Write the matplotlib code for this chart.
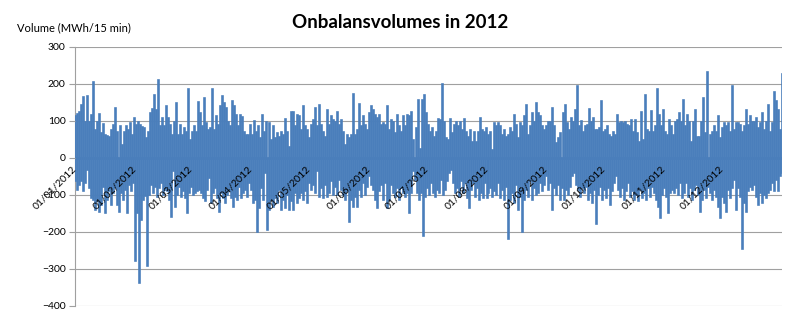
import numpy as np
import matplotlib
matplotlib.use('Agg')
import matplotlib.pyplot as plt

# read-off upper peaks (MWh/15 min), Jan -> Dec
upper_peaks = [
    112, 118, 125, 144, 165, 98, 166, 98, 116, 206, 75, 98, 119, 66, 92, 62, 60, 57, 75, 89,
    135, 71, 85, 35, 71, 85, 75, 94, 62, 107, 90, 98, 89, 84, 80, 53, 71, 121, 132, 171,
    130, 210, 85, 107, 85, 141, 107, 89, 62, 98, 148, 62, 89, 62, 80, 70, 187, 48, 71, 85,
    71, 150, 121, 85, 162, 94, 75, 80, 186, 75, 114, 89, 139, 168, 148, 135, 98, 85, 153, 139,
    116, 85, 116, 110, 71, 62, 62, 89, 62, 100, 71, 85, 53, 116, 71, 98, 94, 48, 85, 53,
    66, 57, 71, 62, 105, 71, 30, 123, 125, 85, 116, 112, 75, 139, 85,
    75, 53, 89, 103, 135, 85, 144, 89, 71, 57, 130, 89, 112, 103, 98, 125, 89, 103, 71, 35,
    62, 53, 62, 174, 62, 75, 146, 85, 112, 89, 75, 121, 139, 130, 116, 107, 116, 89, 94, 89,
    141, 75, 103, 98, 68, 116, 85, 71, 112, 85, 116, 112, 125, 48, 80, 157, 25, 157, 171, 121,
    89, 71, 80, 57, 71, 105, 103, 200, 98, 53, 48, 105, 66, 89, 98, 85, 98, 75, 105, 71,
    57, 75, 44, 71, 44, 71, 109, 75, 71, 80, 62, 71, 21, 94, 85, 94, 85, 62, 75, 57,
    62, 80, 71, 116, 89, 53, 94, 85, 112, 144, 62, 85, 121, 98,
    148, 121, 112, 85, 75, 85, 98, 98, 135, 85, 39, 53, 66, 121, 144, 94, 75, 107, 98, 130,
    194, 85, 101, 71, 85, 89, 133, 98, 107, 75, 75, 80, 153, 71, 75, 85, 62, 57, 71, 62,
    115, 94, 96, 94, 96, 89, 85, 103, 71, 103, 66, 44, 125, 48, 171, 75, 71, 128, 71, 85,
    185, 116, 85, 130, 71, 62, 103, 85, 62, 98, 103, 121, 98, 157, 85, 116, 98, 44, 98, 130,
    57, 57, 98, 162, 66, 233, 62, 71, 85, 71, 112, 53, 80, 94, 85, 94, 71, 194, 75, 94,
    94, 89, 71, 85, 130, 89, 112, 98, 96, 107, 80, 94, 121, 75, 98, 144, 71, 94, 178, 153,
    130, 75, 228,
]

# read-off lower troughs
lower_peaks = [
    -61, -84, -70, -61, -88, -65, -29, -79, -106, -111, -138, -115, -143, -125, -75, -147, -111, -88, -125, -93,
    -79, -125, -143, -93, -111, -84, -147, -70, -88, -65, -275, -147, -335, -165, -111, -100, -290, -97, -70, -93,
    -75, -102, -79, -65, -97, -84, -88, -111, -156, -34, -129, -97, -75, -102, -88, -106, -147, -93, -75, -97,
    -93, -88, -84, -93, -106, -115, -84, -52, -120, -93, -79, -106, -143, -93, -106, -120, -97, -88, -106, -129,
    -102, -111, -75, -106, -93, -84, -102, -65, -84, -120, -111, -197, -134, -79, -111, -38, -193, -138, -111, -129,
    -106, -120, -84, -138, -111, -134, -97, -138, -115, -138, -93, -120, -106, -93, -111, -88, -120,
    -65, -84, -70, -93, -34, -102, -79, -106, -70, -102, -93, -61, -97, -75, -97, -56, -84, -97, -111, -88,
    -170, -111, -129, -102, -129, -84, -102, -65, -97, -75, -47, -70, -84, -111, -134, -88, -70, -111, -65, -134,
    -111, -70, -93, -102, -79, -111, -79, -93, -102, -93, -147, -93, -34, -56, -93, -111, -93, -207, -102, -79,
    -97, -65, -93, -102, -84, -93, -56, -97, -84, -61, -38, -29, -65, -93, -79, -102, -61, -93, -65, -106,
    -134, -84, -65, -102, -79, -111, -93, -106, -65, -106, -93, -79, -102, -88, -97, -65, -106, -84, -111, -75,
    -216, -111, -93, -120, -70, -138, -102, -197, -111, -84, -102, -61, -111, -79, -97,
    -93, -65, -88, -70, -47, -84, -65, -138, -79, -97, -70, -111, -79, -111, -84, -97, -75, -47, -38, -70,
    -84, -102, -79, -93, -75, -111, -93, -120, -84, -175, -97, -75, -111, -84, -106, -79, -125, -88, -65, -47,
    -84, -102, -79, -111, -88, -65, -102, -88, -111, -97, -115, -84, -106, -93, -111, -79, -102, -75, -93, -111,
    -129, -161, -97, -79, -102, -147, -93, -84, -93, -79, -97, -65, -106, -93, -65, -102, -79, -111, -84, -70,
    -97, -143, -111, -84, -106, -75, -93, -111, -84, -102, -129, -161, -102, -120, -143, -84, -106, -79, -56, -138,
    -79, -102, -243, -120, -143, -88, -75, -84, -70, -102, -125, -93, -120, -97, -106, -93, -84, -65, -88, -56,
    -88, -47, -38,
]

month_start = [0, 31, 60, 91, 121, 152, 182, 213, 244, 274, 305, 335]
month_labels = ['01/01/2012', '01/02/2012', '01/03/2012', '01/04/2012', '01/05/2012', '01/06/2012',
                '01/07/2012', '01/08/2012', '01/09/2012', '01/10/2012', '01/11/2012', '01/12/2012']
days_in_year = 366
y_ticks = [-400, -300, -200, -100, 0, 100, 200, 300]

plt.rcParams['font.family'] = ['Lato', 'DejaVu Sans']

# spread both series over the year
x_hi = np.linspace(0, days_in_year, len(upper_peaks))
x_lo = np.linspace(0, days_in_year, len(lower_peaks))

fig = plt.figure(figsize=(8, 3.19), dpi=100)
ax = fig.add_axes([0.094, 0.041, 0.8835, 0.812])

# gridlines under the data, tick labels above it
for yv in y_ticks:
    ax.axhline(yv, color='#A0A0A0', lw=0.8, zorder=0.5)
ax.vlines(x_hi, 0, upper_peaks, color='#4A7EBB', lw=1.9, zorder=2, capstyle='projecting')
ax.vlines(x_lo, lower_peaks, 0, color='#4A7EBB', lw=1.9, zorder=2, capstyle='projecting')
ax.set_axisbelow(False)

ax.set_xlim(0, days_in_year)
ax.set_ylim(-400, 300)
ax.set_yticks(y_ticks)

ax.spines['top'].set_visible(False)
ax.spines['right'].set_visible(False)
ax.spines['left'].set_color('#A0A0A0')
ax.spines['left'].set_zorder(0.6)
ax.spines['bottom'].set_visible(False)
ax.spines['bottom'].set_position(('data', 0))

ax.set_xticks(month_start)
ax.set_xticklabels(month_labels, rotation=45, ha='right', va='center', rotation_mode='anchor')
ax.tick_params(axis='x', length=0, pad=7, labelsize=7.5, labelcolor='#000000')
ax.tick_params(axis='y', length=4, color='#A0A0A0', labelsize=7.5, labelcolor='#000000', pad=3)

fig.text(0.021, 0.912, 'Volume (MWh/15 min)', fontsize=8, va='center', ha='left')
fig.text(0.5, 0.93, 'Onbalansvolumes in 2012', fontsize=13.5, fontweight='bold', ha='center', va='center')

fig.savefig('out.png', dpi=100)
